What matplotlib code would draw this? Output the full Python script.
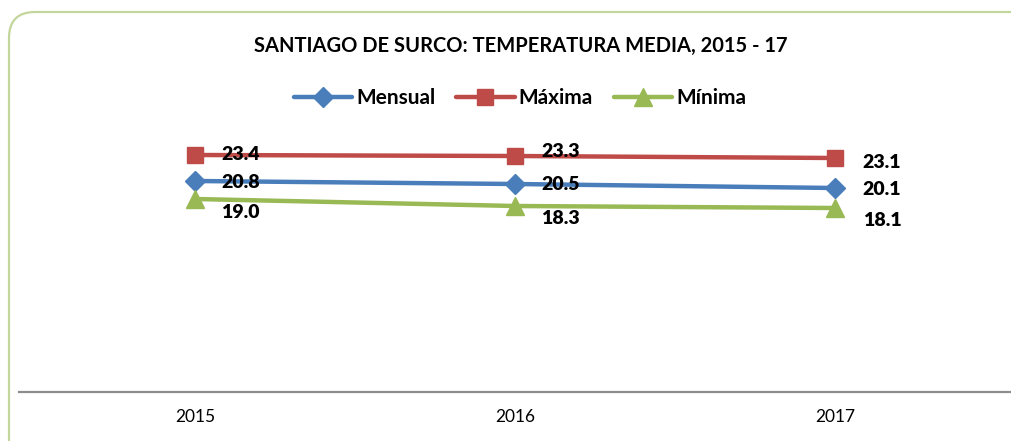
import matplotlib.pyplot as plt
from matplotlib.patches import FancyBboxPatch
from matplotlib.transforms import IdentityTransform

years = ["2015", "2016", "2017"]
mensual = [20.8, 20.5, 20.1]
maxima = [23.4, 23.3, 23.1]
minima = [19.0, 18.3, 18.1]

plt.rcParams['font.family'] = ['Lato', 'DejaVu Sans']

W, H = 1012, 441
fig = plt.figure(figsize=(W / 100, H / 100), dpi=100)

# rounded green frame, cut off on the right and bottom like the source (pixel coords)
frame = FancyBboxPatch((9, -60), 1100, H - 12 + 60,
                       boxstyle="round,pad=0,rounding_size=26",
                       transform=IdentityTransform(), facecolor='none',
                       edgecolor='#C3D69B', linewidth=1.6, zorder=0)
fig.patches.append(frame)

ax = fig.add_axes([19 / W, 1 - 392 / H, 1 - 19 / W, 300 / H])
ax.patch.set_alpha(0)
x = list(range(len(years)))

series = [
    ("Mensual", mensual, '#4A7EBB', 'D', 10),
    ("Máxima", maxima, '#BE4B48', 's', 12),
    ("Mínima", minima, '#98B954', '^', 13),
]
for name, vals, color, marker, ms in series:
    ax.plot(x, vals, color=color, lw=3.2, marker=marker, markersize=ms,
            label=name, solid_capstyle='round')

# data label offsets (points) per series, per year
offsets = {
    "Mensual": [(19, -1), (19, 0), (20, -1)],
    "Máxima": [(19, 0), (19, 3), (20, -3)],
    "Mínima": [(19, -10), (19, -9), (20, -9)],
}
for name, vals, color, marker, ms in series:
    for xi, v, off in zip(x, vals, offsets[name]):
        ax.annotate(f"{v:.1f}", (xi, v), xytext=off, textcoords='offset points',
                    ha='left', va='center', fontsize=14, fontweight='heavy')

ax.set_xlim(-0.55, 2.553)
ax.set_ylim(-0.3, 29.7)
ax.set_xticks(x)
ax.set_xticklabels(years, fontsize=12.5)
ax.tick_params(axis='x', length=0, pad=12)
ax.set_yticks([])
for s in ['top', 'right', 'left']:
    ax.spines[s].set_visible(False)
ax.spines['bottom'].set_color('#8C8C8C')
ax.spines['bottom'].set_linewidth(1.6)

fig.text(521 / W, 1 - 46 / H, "SANTIAGO DE SURCO: TEMPERATURA MEDIA, 2015 - 17",
         ha='center', va='center', fontsize=14.5, fontweight='bold')

fig.legend(loc='center', bbox_to_anchor=(520 / W, 1 - 98 / H), ncol=3,
           frameon=False, prop={'size': 15, 'weight': 'bold'},
           handlelength=2.8, columnspacing=1.0, handletextpad=0.2)

fig.savefig("out.png", dpi=100)
